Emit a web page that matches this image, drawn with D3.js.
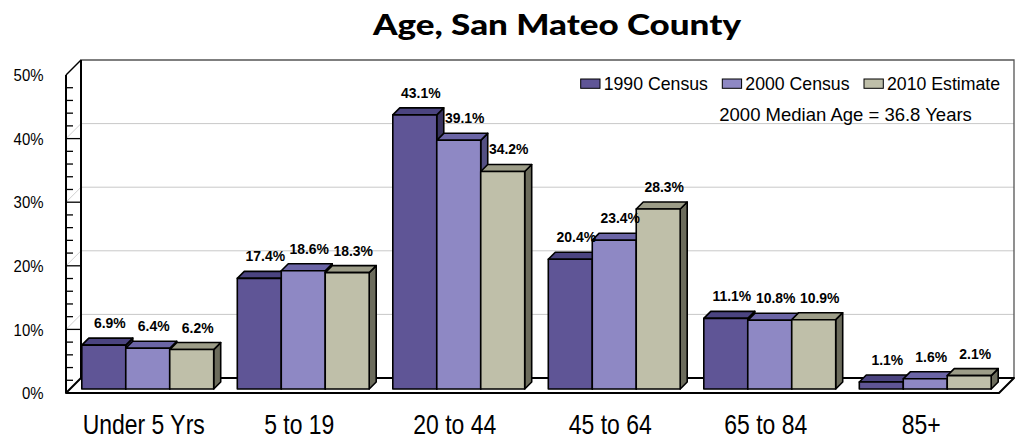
<!DOCTYPE html>
<html>
<head>
<meta charset="utf-8">
<script src="https://cdn.jsdelivr.net/npm/d3@7"></script>
<style>
  body { margin: 0; background: #fff; }
  svg { display: block; font-family: Arial, "Liberation Sans", sans-serif; }
</style>
</head>
<body>
<div id="chart"></div>
<script>
// data
const categories = ["Under 5 Yrs", "5 to 19", "20 to 44", "45 to 64", "65 to 84", "85+"];
const seriesNames = ["1990 Census", "2000 Census", "2010 Estimate"];
const census1990 = [6.9, 17.4, 43.1, 20.4, 11.1, 1.1];
const census2000 = [6.4, 18.6, 39.1, 23.4, 10.8, 1.6];
const estimate2010 = [6.2, 18.3, 34.2, 28.3, 10.9, 2.1];
const yTicks = [0, 10, 20, 30, 40, 50];

const seriesValues = [census1990, census2000, estimate2010];

// colours: front, top, side
const faceColors = [
    { front: "#5f5596", top: "#4b4480", side: "#39335f" },
    { front: "#8e88c4", top: "#6b65a6", side: "#545083" },
    { front: "#bfbfa9", top: "#9d9d88", side: "#6c6c5c" }
];

const width = 1015, height = 438;
const depth = 15;            // wall depth offset (x right, y up)
const barOff = 4;            // bar front plane offset
const barDepth = 7;          // bar depth

const svg = d3.select("#chart").append("svg")
    .attr("width", width)
    .attr("height", height)
    .attr("viewBox", [0, 0, width, height]);

// scales (front plane)
const y = d3.scaleLinear().domain([0, 50]).range([393, 75]);
const x = d3.scaleBand().domain(categories).range([66, 999]);
const gap = 11.8;
const xSub = d3.scaleBand().domain(seriesNames).range([gap, x.bandwidth() - gap]);

const xLeft = x.range()[0], xRight = x.range()[1];

// title
svg.append("text")
    .attr("x", 557)
    .attr("y", 35)
    .attr("text-anchor", "middle")
    .attr("textLength", 368)
    .attr("lengthAdjust", "spacingAndGlyphs")
    .style("font-family", "Lato, 'Open Sans', sans-serif")
    .style("font-weight", "900")
    .style("font-size", "29px")
    .style("fill", "#000")
    .text("Age, San Mateo County");

// walls
const walls = svg.append("g");

// back wall gridlines
walls.selectAll(".grid")
    .data(yTicks.filter(d => d > 0 && d < 50))
    .enter()
    .append("line")
    .attr("x1", xLeft + depth)
    .attr("x2", xRight + depth)
    .attr("y1", d => y(d) - depth)
    .attr("y2", d => y(d) - depth)
    .attr("stroke", "#c8c8c8")
    .attr("stroke-width", 1);

// side wall diagonals
walls.selectAll(".side-grid")
    .data(yTicks.filter(d => d > 0 && d < 50))
    .enter()
    .append("line")
    .attr("x1", xLeft)
    .attr("x2", xLeft + depth)
    .attr("y1", d => y(d))
    .attr("y2", d => y(d) - depth)
    .attr("stroke", "#d0d0d0")
    .attr("stroke-width", 1);

// back wall outline
walls.append("path")
    .attr("d", `M${xLeft + depth},${y(0) - depth} L${xLeft + depth},${y(50) - depth} L${xRight + depth},${y(50) - depth} L${xRight + depth},${y(0) - depth}`)
    .attr("fill", "none")
    .attr("stroke", "#555")
    .attr("stroke-width", 1.3);
walls.append("line")
    .attr("x1", xLeft + depth).attr("x2", xLeft + depth)
    .attr("y1", y(0) - depth).attr("y2", y(50) - depth)
    .attr("stroke", "#000").attr("stroke-width", 2);

// floor
walls.append("path")
    .attr("d", `M${xLeft},${y(0)} L${xLeft + depth},${y(0) - depth} L${xRight + depth},${y(0) - depth} L${xRight},${y(0)} Z`)
    .attr("fill", "#fff")
    .attr("stroke", "#000")
    .attr("stroke-width", 2)
    .attr("stroke-linejoin", "round");

// side wall top edge
walls.append("line")
    .attr("x1", xLeft).attr("x2", xLeft + depth)
    .attr("y1", y(50)).attr("y2", y(50) - depth)
    .attr("stroke", "#000").attr("stroke-width", 1.5);

// front y axis
walls.append("line")
    .attr("x1", xLeft).attr("x2", xLeft)
    .attr("y1", y(0)).attr("y2", y(50))
    .attr("stroke", "#000").attr("stroke-width", 2);

// ticks
const minorTicks = d3.range(0, 50.001, 2).filter(d => d % 10 !== 0);
walls.selectAll(".minor")
    .data(minorTicks)
    .enter()
    .append("line")
    .attr("x1", xLeft).attr("x2", xLeft + 7)
    .attr("y1", d => y(d)).attr("y2", d => y(d))
    .attr("stroke", "#000").attr("stroke-width", 1.3);
walls.selectAll(".major")
    .data(yTicks.filter(d => d > 0 && d < 50))
    .enter()
    .append("line")
    .attr("x1", xLeft).attr("x2", xLeft + depth)
    .attr("y1", d => y(d)).attr("y2", d => y(d))
    .attr("stroke", "#000").attr("stroke-width", 1.3);

// y labels
svg.selectAll(".ylabel")
    .data(yTicks)
    .enter()
    .append("text")
    .attr("transform", d => `translate(43.5,${y(d)}) scale(0.88,1)`)
    .attr("text-anchor", "end")
    .attr("dy", "0.36em")
    .style("font-size", "17px")
    .style("fill", "#000")
    .text(d => d + "%");

// bars
const bars = svg.append("g");
categories.forEach((c, ci) => {
    seriesNames.forEach((s, si) => {
        const v = seriesValues[si][ci];
        const x0 = x(c) + xSub(s) + barOff;
        const x1 = x0 + xSub.bandwidth();
        const yb = y(0) - barOff;
        const yt = y(v) - barOff;
        const col = faceColors[si];
        const g = bars.append("g")
            .attr("stroke", "#000")
            .attr("stroke-width", 1.6)
            .attr("stroke-linejoin", "round");
        // side
        g.append("path")
            .attr("d", `M${x1},${yb} L${x1 + barDepth},${yb - barDepth} L${x1 + barDepth},${yt - barDepth} L${x1},${yt} Z`)
            .attr("fill", col.side);
        // top
        g.append("path")
            .attr("d", `M${x0},${yt} L${x0 + barDepth},${yt - barDepth} L${x1 + barDepth},${yt - barDepth} L${x1},${yt} Z`)
            .attr("fill", col.top);
        // front
        g.append("rect")
            .attr("x", x0)
            .attr("y", yt)
            .attr("width", x1 - x0)
            .attr("height", yb - yt)
            .attr("fill", col.front);
    });
});

// value labels
const labels = svg.append("g");
categories.forEach((c, ci) => {
    seriesNames.forEach((s, si) => {
        const v = seriesValues[si][ci];
        const cx = x(c) + xSub(s) + barOff + xSub.bandwidth() / 2 + 6;
        const cy = y(v) - barOff - 17;
        labels.append("text")
            .attr("transform", `translate(${cx},${cy}) scale(0.93,1)`)
            .attr("text-anchor", "middle")
            .style("font-size", "15px")
            .style("font-weight", "700")
            .style("fill", "#000")
            .text(v.toFixed(1) + "%");
    });
});

// x labels
svg.selectAll(".xlabel")
    .data(categories)
    .enter()
    .append("text")
    .attr("transform", d => `translate(${x(d) + x.bandwidth() / 2},434) scale(0.82,1)`)
    .attr("text-anchor", "middle")
    .style("font-size", "28px")
    .style("fill", "#000")
    .text(d => d);

// legend
const legendX = [580.7, 722.3, 864];
const legend = svg.append("g");
seriesNames.forEach((s, i) => {
    legend.append("rect")
        .attr("x", legendX[i])
        .attr("y", 79)
        .attr("width", 19.3)
        .attr("height", 9.3)
        .attr("fill", faceColors[i].front)
        .attr("stroke", "#000")
        .attr("stroke-width", 1);
    legend.append("text")
        .attr("x", legendX[i] + 23)
        .attr("y", 90)
        .style("font-size", "17.7px")
        .style("fill", "#000")
        .text(s);
});

svg.append("text")
    .attr("x", 719.3)
    .attr("y", 120.5)
    .style("font-size", "18.5px")
    .style("fill", "#000")
    .text("2000 Median Age = 36.8 Years");
</script>
</body>
</html>
